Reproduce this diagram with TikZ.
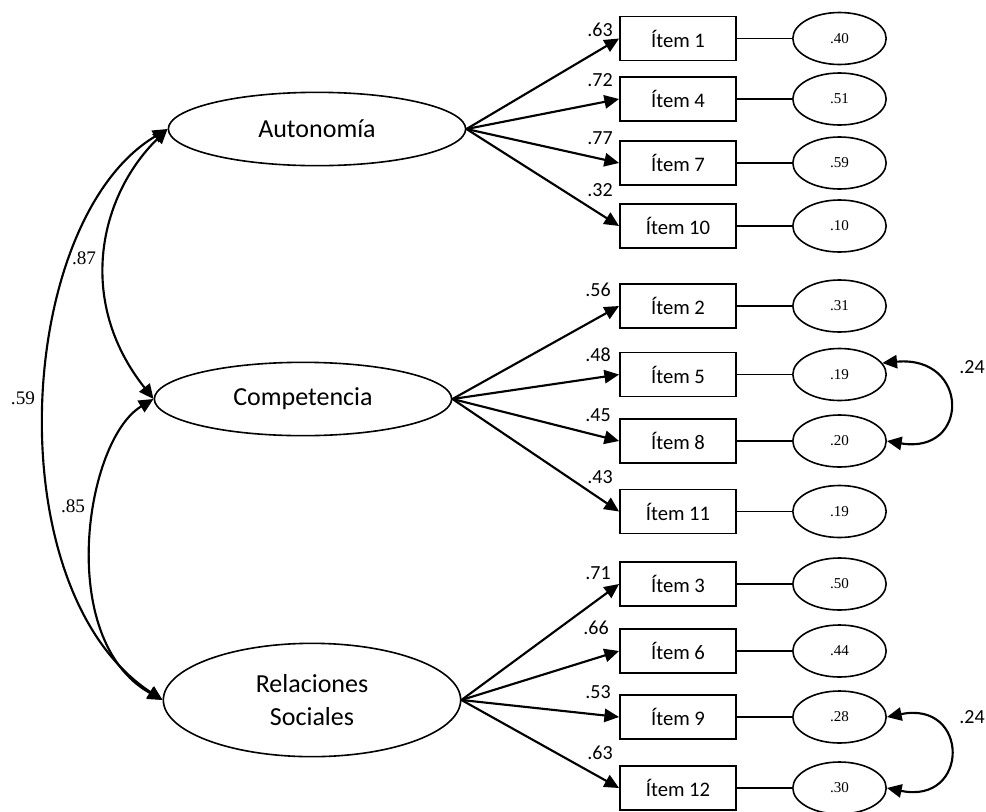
\documentclass[tikz,border=0pt]{standalone}
\usepackage{fontspec}
\setmainfont{Carlito}
\newfontfamily\numserif{Liberation Serif}
\usetikzlibrary{arrows.meta,shapes.geometric}

\begin{document}
\begin{tikzpicture}[x=0.75pt, y=-0.75pt, >={Triangle[length=11pt,width=10pt]},
  factor/.style={ellipse, draw, line width=1.2pt, minimum width=223pt, minimum height=55pt, inner sep=0pt, align=center, font=\fontsize{19.5}{25}\selectfont},
  item/.style={rectangle, draw, line width=1.4pt, minimum width=87pt, minimum height=33pt, inner sep=0pt, font=\fontsize{15.5}{18}\selectfont},
  error/.style={ellipse, draw, line width=1.2pt, minimum width=70pt, minimum height=39pt, inner sep=0pt, font=\numserif\fontsize{11.3}{13}\selectfont},
  weight/.style={inner sep=0pt, font=\fontsize{15}{18}\selectfont},
  corr/.style={inner sep=0pt, font=\numserif\fontsize{14.4}{17}\selectfont},
  arrow/.style={->, line width=1.6pt},
  link/.style={line width=1.3pt},
  cov/.style={<->, line width=1.6pt}]
  \useasboundingbox (0,0) rectangle (986,811);
  % factores latentes
  \node[factor] (aut) at (317,129) {Autonomía};
  \node[factor] (comp) at (303,399) {Competencia};
  \node[factor, minimum height=85pt] (rel) at (312,700) {Relaciones\\Sociales};
  % items
  \node[item] (i1) at (678,38.5) {Ítem 1};
  \node[item] (i4) at (678,99) {Ítem 4};
  \node[item] (i7) at (678,163) {Ítem 7};
  \node[item] (i10) at (678,226) {Ítem 10};
  \node[item] (i2) at (678,306) {Ítem 2};
  \node[item] (i5) at (678,374.5) {Ítem 5};
  \node[item] (i8) at (678,441) {Ítem 8};
  \node[item] (i11) at (678,511.5) {Ítem 11};
  \node[item] (i3) at (678,584) {Ítem 3};
  \node[item] (i6) at (678,651) {Ítem 6};
  \node[item] (i9) at (678,717) {Ítem 9};
  \node[item] (i12) at (678,788) {Ítem 12};
  % errores
  \node[error] (e1) at (839.5,38.5) {.40};
  \node[error] (e4) at (839.5,99) {.51};
  \node[error] (e7) at (839.5,163) {.59};
  \node[error] (e10) at (839.5,226) {.10};
  \node[error] (e2) at (839.5,306) {.31};
  \node[error] (e5) at (839.5,374.5) {.19};
  \node[error] (e8) at (839.5,441) {.20};
  \node[error] (e11) at (839.5,511.5) {.19};
  \node[error] (e3) at (839.5,584) {.50};
  \node[error] (e6) at (839.5,651) {.44};
  \node[error] (e9) at (839.5,717) {.28};
  \node[error] (e12) at (839.5,788) {.30};
  % cargas factoriales
  \node[weight] (w1) at (600,30) {.63};
  \node[weight] (w4) at (600,80) {.72};
  \node[weight] (w7) at (600,138) {.77};
  \node[weight] (w10) at (600,190) {.32};
  \node[weight] (w2) at (598,290) {.56};
  \node[weight] (w5) at (598,355) {.48};
  \node[weight] (w8) at (598,415) {.45};
  \node[weight] (w11) at (600,477) {.43};
  \node[weight] (w3) at (598,573) {.71};
  \node[weight] (w6) at (596,628) {.66};
  \node[weight] (w9) at (598,692) {.53};
  \node[weight] (w12) at (600,753) {.63};
  % correlaciones
  \node[corr] (r87) at (84,258) {.87};
  \node[corr] (r59) at (23,398) {.59};
  \node[corr] (r85) at (73,506) {.85};
  \node[weight] (r24a) at (972,367) {.24};
  \node[weight] (r24b) at (972,717) {.24};
  \draw[arrow] (aut.east) -- (i1.west);
  \draw[arrow] (aut.east) -- (i4.west);
  \draw[arrow] (aut.east) -- (i7.west);
  \draw[arrow] (aut.east) -- (i10.west);
  \draw[arrow] (comp.east) -- (i2.west);
  \draw[arrow] (comp.east) -- (i5.west);
  \draw[arrow] (comp.east) -- (i8.west);
  \draw[arrow] (comp.east) -- (i11.west);
  \draw[arrow] (rel.east) -- (i3.west);
  \draw[arrow] (rel.east) -- (i6.west);
  \draw[arrow] (rel.east) -- (i9.west);
  \draw[arrow] (rel.east) -- (i12.west);
  \draw[link] (i1) -- (e1);
  \draw[link] (i4) -- (e4);
  \draw[link] (i7) -- (e7);
  \draw[link] (i10) -- (e10);
  \draw[link] (i2) -- (e2);
  \draw[link] (i5) -- (e5);
  \draw[link] (i8) -- (e8);
  \draw[link] (i11) -- (e11);
  \draw[link] (i3) -- (e3);
  \draw[link] (i6) -- (e6);
  \draw[link] (i9) -- (e9);
  \draw[link] (i12) -- (e12);
  \draw[cov] (aut.west) .. controls (100,195) and (75,300) .. (comp.west);
  \draw[cov] (aut.west) .. controls (15,220) and (-5,590) .. (rel.west);
  \draw[cov] (comp.west) .. controls (85,440) and (55,640) .. (rel.west);
  \draw[cov] (e5.15) .. controls (970,355) and (970,455) .. (e8.east);
  \draw[cov] (e9.east) .. controls (970,700) and (970,805) .. (e12.east);
\end{tikzpicture}
\end{document}
